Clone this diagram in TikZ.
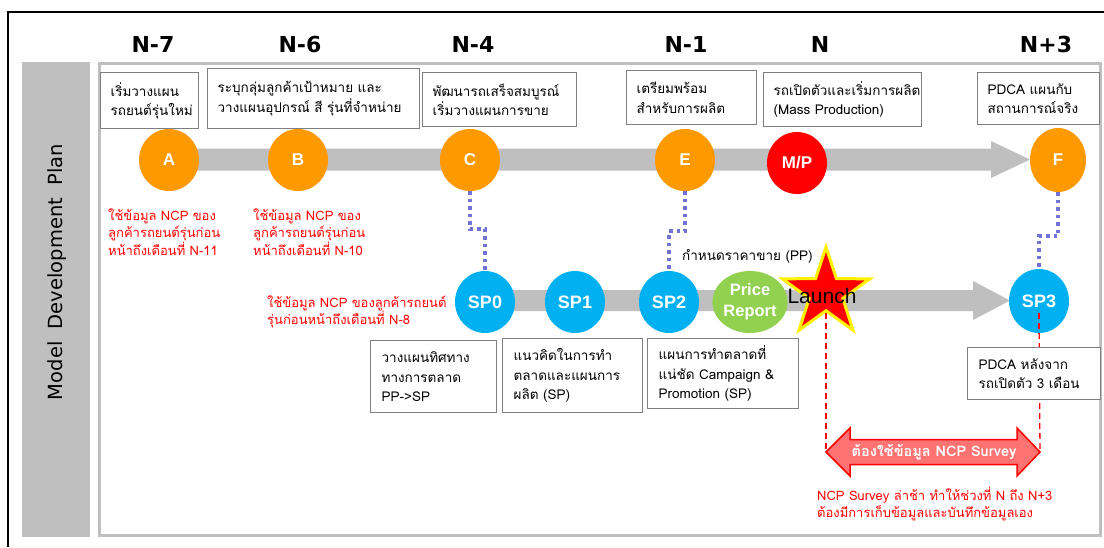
\documentclass[tikz,border=0pt]{standalone}
\usepackage{fontspec}
\setmainfont{DejaVu Sans}
\newfontfamily\thaifont[Script=Thai]{Loma}
\newfontfamily\arialfont{Liberation Sans}
\usetikzlibrary{shapes.geometric,calc}

\definecolor{bandgray}{HTML}{BFBFBF}
\definecolor{orng}{HTML}{FF9900}
\definecolor{skyblue}{HTML}{00B0F0}
\definecolor{limegreen}{HTML}{92D050}
\definecolor{dotblue}{HTML}{7272D6}
\definecolor{boxline}{HTML}{7F7F7F}
\definecolor{survfill}{HTML}{FF7373}

\begin{document}
\begin{tikzpicture}[x=1pt,y=-1pt,
  infobox/.style={draw=boxline,line width=1.3pt,fill=white,anchor=north west,
    align=left,inner xsep=10pt,inner ysep=0pt,
    font=\thaifont\fontsize{13.5}{19.5}\selectfont},
  redtext/.style={text=red,align=left,anchor=west,inner sep=0pt,
    font=\thaifont\fontsize{13}{17.5}\selectfont},
  header/.style={font=\bfseries\fontsize{22}{22}\selectfont},
  milestone/.style={ellipse,fill=orng,minimum width=60pt,minimum height=62pt,
    inner sep=0pt,text=white,font=\arialfont\bfseries\fontsize{17}{17}\selectfont},
  spnode/.style={ellipse,fill=skyblue,minimum width=60pt,minimum height=62pt,
    inner sep=0pt,text=white,font=\arialfont\bfseries\fontsize{18}{18}\selectfont},
  dotlink/.style={dotblue,line width=3.5pt,dash pattern=on 3.5pt off 4pt},
  reddash/.style={red,line width=1.3pt,dash pattern=on 6pt off 4pt},
]
\useasboundingbox (0,0) rectangle (1104,547);

% outer frame
\draw[black,line width=1.5pt] (1104,12) -- (8,12) -- (8,547);

% side title bar
\fill[bandgray] (22,62) rectangle (90,537);
\node[rotate=90,font=\fontsize{19.5}{20}\selectfont] (title) at (57,272) {Model\ \ Development\ \ Plan};

% inner panel
\draw[bandgray,line width=3pt,fill=white] (99,63) rectangle (1100,535);

% period headers
\node[header] (h1) at (153,44) {N-7};
\node[header] (h2) at (300,44) {N-6};
\node[header] (h3) at (473,44) {N-4};
\node[header] (h4) at (686,44) {N-1};
\node[header] (h5) at (820,44) {N};
\node[header] (h6) at (1046,44) {N+3};

% top description boxes
\node[infobox,text width=78pt,minimum height=56pt] (t1) at (100,72) {เริ่มวางแผน\\รถยนต์รุ่นใหม่};
\node[infobox,text width=192pt,minimum height=60pt] (t2) at (207,68) {ระบุกลุ่มลูกค้าเป้าหมาย และ\\วางแผนอุปกรณ์ สี รุ่นที่จำหน่าย};
\node[infobox,text width=134pt,minimum height=54pt] (t3) at (422,72) {พัฒนารถเสร็จสมบูรณ์\\เริ่มวางแผนการขาย};
\node[infobox,text width=110pt,minimum height=54pt] (t4) at (626,70) {เตรียมพร้อม\\สำหรับการผลิต};
\node[infobox,text width=138pt,minimum height=54pt] (t5) at (763,72) {รถเปิดตัวและเริ่มการผลิต\\(Mass Production)};
\node[infobox,text width=102pt,minimum height=52pt] (t6) at (977,72) {PDCA แผนกับ\\สถานการณ์จริง};

% main timeline band
\fill[bandgray] (150,148.5) -- (991,148.5) -- (991,141) -- (1030,159.5) -- (991,178) -- (991,170.5) -- (150,170.5) -- cycle;

% sales timeline band
\fill[bandgray] (485,290) -- (973,290) -- (973,281) -- (1010,300.5) -- (973,320) -- (973,311) -- (485,311) -- cycle;

% milestones
\node[milestone] (A) at (169,160) {A};
\node[milestone] (B) at (298,160) {B};
\node[milestone] (C) at (470,160) {C};
\node[milestone] (E) at (685,160) {E};
\node[milestone,fill=red] (MP) at (797,163) {M/P};
\node[milestone,minimum width=56pt,minimum height=64pt] (F) at (1058,160) {F};

% data notes
\node[redtext] (nA) at (108,232) {ใช้ข้อมูล NCP ของ\\ลูกค้ารถยนต์รุ่นก่อน\\หน้าถึงเดือนที่ N-11};
\node[redtext] (nB) at (253,232) {ใช้ข้อมูล NCP ของ\\ลูกค้ารถยนต์รุ่นก่อน\\หน้าถึงเดือนที่ N-10};
\node[redtext] (nS) at (267,312) {ใช้ข้อมูล NCP ของลูกค้ารถยนต์\\รุ่นก่อนหน้าถึงเดือนที่ N-8};

% sales steps
\node[spnode] (SP0) at (485,302) {SP0};
\node[spnode] (SP1) at (575,302) {SP1};
\node[spnode] (SP2) at (669,302) {SP2};
\node[spnode,fill=limegreen,font=\arialfont\bfseries\fontsize{16.5}{21}\selectfont,align=center] (PR) at (750,302) {Price\\Report};
\node[spnode,minimum height=64pt] (SP3) at (1039,301) {SP3};

% milestone to step links
\draw[dotlink] (C.south) -- ($(C.south)+(0,38)$) -| (SP0.north);
\draw[dotlink] (E.south) -- ($(E.south)+(0,40)$) -| (SP2.north);
\draw[dotlink] (F.south) -- ($(F.south)+(0,44)$) -| (SP3.north);

\node[anchor=west,inner sep=0pt,font=\thaifont\fontsize{13.5}{16}\selectfont] (pp) at (682,256) {กำหนดราคาขาย (PP)};

% lower description boxes
\node[infobox,text width=104pt,minimum height=72pt,inner xsep=11pt] (b0) at (370,340) {วางแผนทิศทาง\\ทางการตลาด\\PP->SP};
\node[infobox,text width=118pt,minimum height=74pt,inner xsep=11pt] (b1) at (502,338) {แนวคิดในการทำ\\ตลาดและแผนการ\\ผลิต (SP)};
\node[infobox,text width=129pt,minimum height=70pt,inner xsep=11pt] (b2) at (647,338) {แผนการทำตลาดที่\\แน่ชัด Campaign \&\\Promotion (SP)};

% launch marker
\node[star,star points=5,star point ratio=2.6,minimum size=92pt,inner sep=0pt,
  fill=red,draw=yellow,line width=3pt] (launch) at (826,293) {};
\node[font=\arialfont\fontsize{21}{21}\selectfont] (launchtxt) at (822,296) {Launch};

% survey span
\coordinate (survL) at (826,452);
\coordinate (survR) at (1040,452);
\draw[reddash] ($(launch.center)+(0,20)$) -- (survL);
\draw[reddash] ($(SP3.center)+(0,12)$) -- (survR);

\node[infobox,text width=111pt,minimum height=52pt,inner xsep=11pt] (b3) at (967,347) {PDCA หลังจาก\\รถเปิดตัว 3 เดือน};
\draw[reddash] ($(SP3.center)+(0,12)$) -- (SP3.south);

\filldraw[fill=survfill,draw=red,line width=1.5pt,line join=miter]
  (survL) -- (850,428) -- (850,439.5) -- (1017,439.5) -- (1017,428) -- (survR)
  -- (1017,476) -- (1017,464.5) -- (850,464.5) -- (850,476) -- cycle;
\node[text=white,font=\thaifont\bfseries\fontsize{14.5}{15}\selectfont] (survey) at (934,452) {ต้องใช้ข้อมูล NCP Survey};

\node[redtext] (nN) at (817,504) {NCP Survey ล่าช้า ทำให้ช่วงที่ N ถึง N+3\\ต้องมีการเก็บข้อมูลและบันทึกข้อมูลเอง};
\end{tikzpicture}
\end{document}
